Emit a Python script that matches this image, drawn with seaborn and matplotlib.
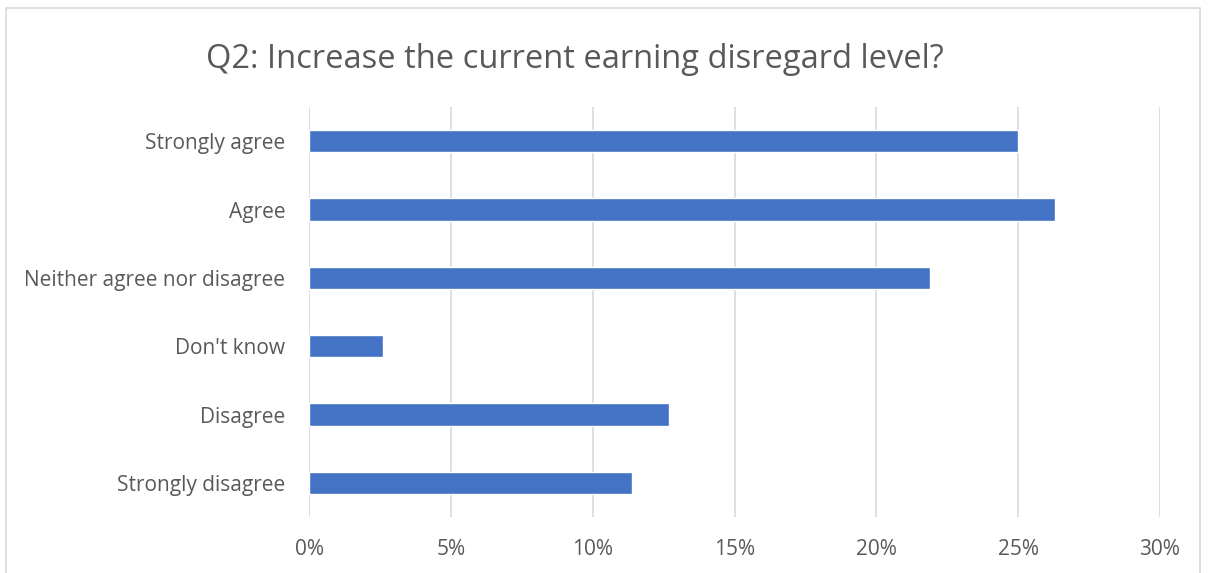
import matplotlib
matplotlib.use("Agg")
import matplotlib.pyplot as plt
import seaborn as sns
import pandas as pd
from matplotlib.patches import Rectangle
from matplotlib.ticker import PercentFormatter

# answers, top to bottom
categories = ["Strongly agree", "Agree", "Neither agree nor disagree",
              "Don't know", "Disagree", "Strongly disagree"]
shares = [25.0, 26.3, 21.9, 2.6, 12.7, 11.4]  # percent of respondents
xticks = [0, 5, 10, 15, 20, 25, 30]

df = pd.DataFrame({"answer": categories, "share": shares})

sns.set_style("white")
plt.rcParams['font.family'] = ['Open Sans', 'DejaVu Sans']

fig = plt.figure(figsize=(12.09, 5.73), dpi=100)
ax = fig.add_axes([309/1209, 1 - 517/573, (1160-309)/1209, (517-107)/573])

sns.barplot(data=df, x="share", y="answer", color="#4472C4", width=0.33,
            saturation=1, ax=ax, zorder=3)

ax.set_xlim(0, 30)
ax.set_ylim(5.5, -0.5)
ax.set_xticks(xticks)
ax.xaxis.set_major_formatter(PercentFormatter(decimals=0))
ax.grid(axis="x", color="#d9d9d9", linewidth=1.2, zorder=0)
ax.set_xlabel("")
ax.set_ylabel("")
ax.tick_params(axis="both", length=0, labelsize=15, labelcolor="#595959")
ax.tick_params(axis="x", pad=16)
ax.tick_params(axis="y", pad=17)
for s in ax.spines.values():
    s.set_visible(False)

fig.text(575/1209, 1 - 60/573, "Q2: Increase the current earning disregard level?",
         ha="center", va="center", fontsize=23.5, color="#595959")

# chart border
fig.patches.append(Rectangle((6/1209, -0.01), (1200-6)/1209, 1 - 8/573 + 0.01,
                             transform=fig.transFigure, fill=False,
                             edgecolor="#d9d9d9", linewidth=1.2))

plt.savefig("out.png", dpi=100)
